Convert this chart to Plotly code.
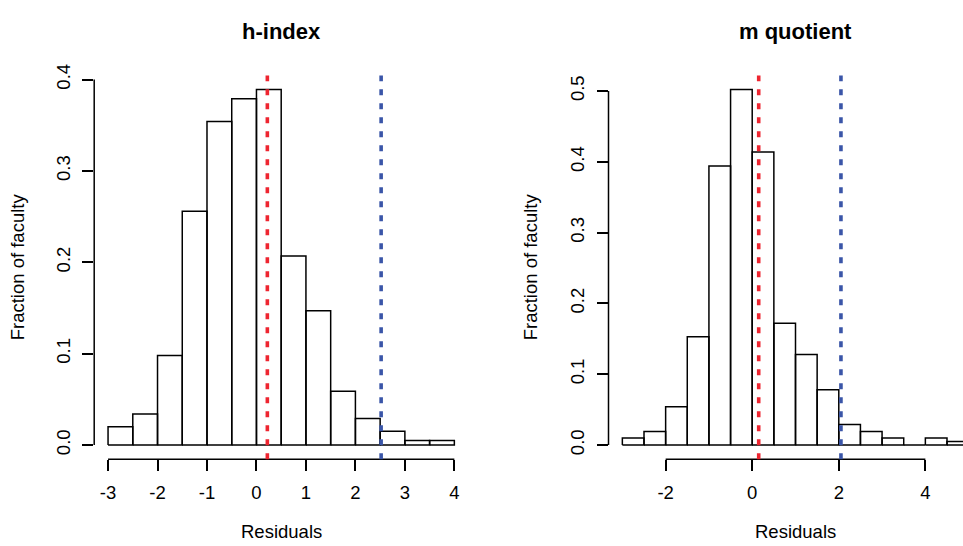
import plotly.graph_objects as go

# ---------------- data ----------------
bin_width = 0.5
h_bin_left = [-3.0, -2.5, -2.0, -1.5, -1.0, -0.5, 0.0, 0.5, 1.0, 1.5, 2.0, 2.5, 3.0, 3.5]
h_values = [0.020, 0.034, 0.098, 0.256, 0.354, 0.379, 0.389, 0.207, 0.147, 0.059, 0.029, 0.015, 0.005, 0.005]
h_x_ticks = [-3, -2, -1, 0, 1, 2, 3, 4]
h_y_ticks = [0.0, 0.1, 0.2, 0.3, 0.4]
h_red_line = 0.22
h_blue_line = 2.52

m_bin_left = [-3.0, -2.5, -2.0, -1.5, -1.0, -0.5, 0.0, 0.5, 1.0, 1.5, 2.0, 2.5, 3.0, 3.5, 4.0, 4.5]
m_values = [0.010, 0.019, 0.054, 0.153, 0.394, 0.502, 0.414, 0.172, 0.128, 0.078, 0.029, 0.019, 0.010, 0.0, 0.010, 0.005]
m_x_ticks = [-2, 0, 2, 4]
m_y_ticks = [0.0, 0.1, 0.2, 0.3, 0.4, 0.5]
m_red_line = 0.15
m_blue_line = 2.05

titles = ["h-index", "m quotient"]
x_title = "Residuals"
y_title = "Fraction of faculty"

# ---------------- layout helpers ----------------
W, H = 963, 546
FONT = "Liberation Sans, Arial, sans-serif"
RED = "#EE2530"
BLUE = "#3A55A8"
LW = 1.5
FS = 18.5

plot_w = 374.0
left_x0 = 94.2
right_x0 = 608.5
top_px = 65.7
bot_px = 457.5
ydom = [1 - bot_px / H, 1 - top_px / H]


def r_range(lo, hi):
    pad = 0.04 * (hi - lo)
    return lo - pad, hi + pad


fig = go.Figure()
panels = [
    (h_bin_left, h_values, h_x_ticks, h_y_ticks, h_red_line, h_blue_line, left_x0, "x", "y", 17),
    (m_bin_left, m_values, m_x_ticks, m_y_ticks, m_red_line, m_blue_line, right_x0, "x2", "y2", 530),
]

shapes = []
annotations = []
for i, (lefts, vals, xt, yt, red, blue, x0px, xa, ya, ylab_px) in enumerate(panels):
    # histogram rectangles (R style, zero-height bins draw as a line)
    px, py = [], []
    for b, v in zip(lefts, vals):
        px += [b, b, b + bin_width, b + bin_width, b, None]
        py += [0, v, v, 0, 0, None]
    fig.add_trace(go.Scatter(
        x=px, y=py, mode="lines", xaxis=xa, yaxis=ya,
        line=dict(color="black", width=LW), connectgaps=False,
        showlegend=False, hoverinfo="skip",
    ))
    xlo, xhi = r_range(lefts[0], lefts[-1] + bin_width)
    ylo, yhi = r_range(0, max(vals))
    x1px = x0px + plot_w
    dom_right = min(x1px, W)
    xhi_vis = xlo + (xhi - xlo) * (dom_right - x0px) / plot_w
    sfx = "" if i == 0 else "2"
    common = dict(showgrid=False, zeroline=False, showline=False, ticks="outside",
                  ticklen=11, tickwidth=LW, tickcolor="black",
                  tickfont=dict(family=FONT, size=FS, color="black"))
    fig.layout["xaxis" + sfx] = dict(domain=[x0px / W, dom_right / W], range=[xlo, xhi_vis],
                                     tickvals=xt, ticktext=[str(v) for v in xt],
                                     anchor="y" + sfx, ticklabelstandoff=6, **common)
    fig.layout["yaxis" + sfx] = dict(domain=ydom, range=[ylo, yhi], tickvals=yt,
                                     ticktext=[f"{v:.1f}" for v in yt], tickangle=-90,
                                     anchor="x" + sfx, ticklabelstandoff=5, **common)
    # axis lines (R style: from first to last tick)
    shapes.append(dict(type="line", xref=xa, yref=ya + " domain", x0=xt[0], x1=xt[-1], y0=0, y1=0,
                       line=dict(color="black", width=LW)))
    shapes.append(dict(type="line", xref=xa + " domain", yref=ya, x0=0, x1=0, y0=yt[0], y1=yt[-1],
                       line=dict(color="black", width=LW)))
    # reference lines
    for xv, col in ((red, RED), (blue, BLUE)):
        shapes.append(dict(type="line", xref=xa, yref=ya + " domain", x0=xv, x1=xv, y0=0, y1=1,
                           line=dict(color=col, width=3.6, dash="6px,8px")))
    cx = (x0px + plot_w / 2) / W
    annotations.append(dict(text="<b>" + titles[i] + "</b>", x=cx, y=1 - 21 / H, xref="paper", yref="paper",
                            showarrow=False, xanchor="center", yanchor="middle",
                            font=dict(family=FONT, size=22, color="black")))
    annotations.append(dict(text=x_title, x=cx, y=2 / H, xref="paper", yref="paper",
                            showarrow=False, xanchor="center", yanchor="bottom",
                            font=dict(family=FONT, size=FS, color="black")))
    annotations.append(dict(text=y_title, x=ylab_px / W, y=(ydom[0] + ydom[1]) / 2, xref="paper", yref="paper",
                            showarrow=False, xanchor="center", yanchor="middle", textangle=-90,
                            font=dict(family=FONT, size=FS, color="black")))

fig.update_layout(
    width=W, height=H, margin=dict(l=0, r=0, t=0, b=0),
    paper_bgcolor="white", plot_bgcolor="white",
    shapes=shapes, annotations=annotations,
)
fig.write_html("out.html")
